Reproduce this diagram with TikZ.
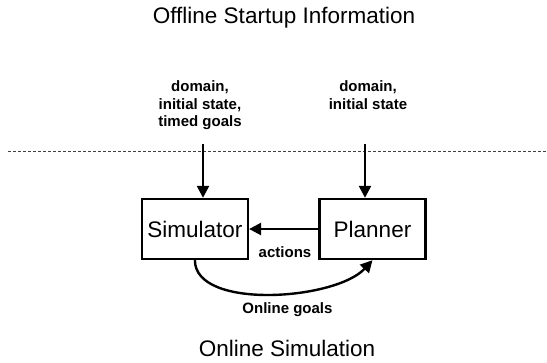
\documentclass[tikz,border=0pt]{standalone}
\usepackage{fontspec}
\setmainfont{Liberation Sans}
\usetikzlibrary{positioning, arrows.meta, calc}

\begin{document}
\begin{tikzpicture}[
      x=1pt, y=-1pt,
      every node/.style={inner sep=0pt},
      big/.style={font=\fontsize{22.5}{27}\selectfont},
      box/.style={draw, line width=2.4pt, minimum width=106pt, minimum height=60pt, big},
      lbl/.style={font=\fontsize{15}{17.5}\selectfont\bfseries, align=center},
      arr/.style={-{Triangle[length=12pt, width=12pt]}, line width=2.4pt},
    ]
    \useasboundingbox (0,0) rectangle (547,362);

    \node[big, anchor=base] (offline) at (284,23.5) {Offline Startup Information};

    % startup inputs
    \node[lbl, anchor=north] (siminput) at (200,80.8) {domain,\\initial state,\\timed goals};
    \node[lbl, anchor=north] (planinput) at (368,80.8) {domain,\\initial state};

    % border between offline and online part
    \draw[dashed, dash pattern=on 3pt off 2pt, line width=1pt, black!75] (8,151) -- (547,151);

    \node[box] (sim) at (194.9,229) {Simulator};
    \node[box] (plan) at (372.5,229) {Planner};

    \coordinate (simfeed) at (203,144);
    \coordinate (planfeed) at (365,144);
    \draw[arr] (simfeed) -- (simfeed |- sim.north);
    \draw[arr] (planfeed) -- (planfeed |- plan.north);

    \draw[arr] (plan.west) -- (sim.east);
    \node[lbl, anchor=base] (actions) at (285,257) {actions};

    \draw[arr] (sim.south) .. controls +(0,50) and +(-37,40) .. (plan.south);
    \node[lbl, anchor=base] (onlinegoals) at (287.5,313.3) {Online goals};

    \node[big, anchor=base] (online) at (287,356) {Online Simulation};
  \end{tikzpicture}
\end{document}
